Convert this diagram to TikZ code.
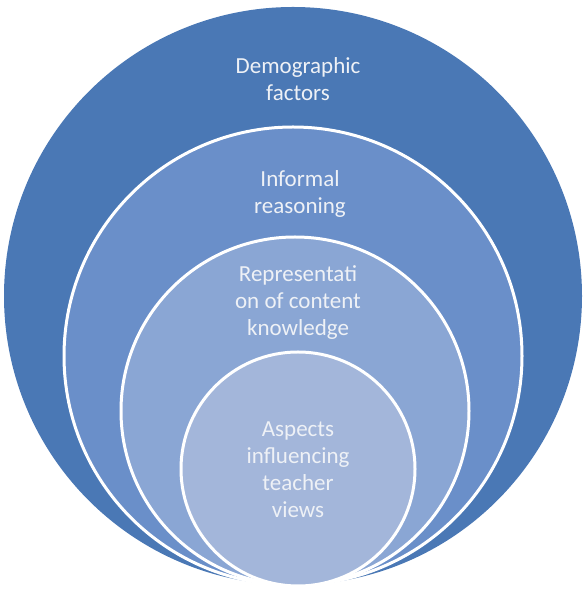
\documentclass[tikz,border=0pt]{standalone}
\usepackage{fontspec}
\setmainfont{Carlito}
\definecolor{ringA}{HTML}{4A78B5}
\definecolor{ringB}{HTML}{6A8FC9}
\definecolor{ringC}{HTML}{8AA6D4}
\definecolor{ringD}{HTML}{A3B6DA}
\definecolor{labeltext}{HTML}{EEF1F6}
\begin{document}
\begin{tikzpicture}[x=1pt,y=1pt,
  ring/.style={circle,inner sep=0pt,outer sep=0pt,draw=white,line width=3pt},
  lbl/.style={align=center,text=labeltext,font=\fontsize{23}{27}\selectfont}]
\useasboundingbox (0,0) rectangle (584,589);
% nested circles, all touching at the bottom
\node[circle,inner sep=0pt,fill=ringA,minimum size=578pt] (outer) at (293,293) {};
\node[ring,fill=ringB,minimum size=458pt] (second) at (293,233) {};
\node[ring,fill=ringC,minimum size=348pt] (third) at (295,178) {};
\node[ring,fill=ringD,minimum size=234pt] (inner) at (298,120) {};
% labels
\node[lbl] (demo) at (298,510) {Demographic\\factors};
\node[lbl] (inf) at (300,395) {Informal\\reasoning};
\node[lbl] (rep) at (298,286) {Representati\\on of content\\knowledge};
\node[lbl] (asp) at (298,119) {Aspects\\influencing\\teacher\\views};
\end{tikzpicture}
\end{document}
